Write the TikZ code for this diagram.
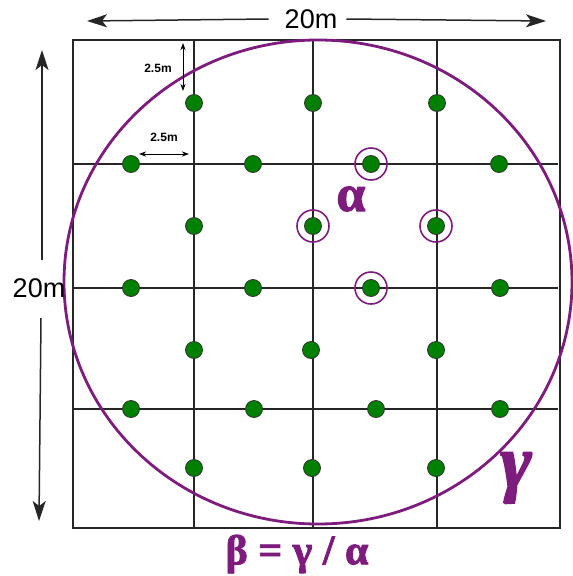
\documentclass[tikz,border=0pt]{standalone}
\usepackage{fontspec}
\setmainfont{Liberation Sans}
\newfontfamily\grkfont[FakeBold=2]{Liberation Serif}
\usetikzlibrary{arrows.meta}
\definecolor{vio}{RGB}{125,28,125}
\definecolor{dotgreen}{RGB}{0,128,0}
\tikzset{
  gridline/.style={draw=black!85, line width=1.5pt},
  frame/.style={draw=black!85, line width=2pt},
  dot/.style={circle, fill=dotgreen, draw=black!80, line width=0.8pt, minimum size=17pt, inner sep=0pt},
  ring/.style={circle, draw=vio, line width=1.6pt, minimum size=32pt, inner sep=0pt},
  bigarrow/.style={draw=black!85, line width=1.5pt, -{Stealth[length=20pt, width=13pt, inset=5pt]}},
  smallarrow/.style={draw=black, line width=0.9pt, {Stealth[length=7pt, width=5pt, inset=2pt]}-{Stealth[length=7pt, width=5pt, inset=2pt]}},
  bigtext/.style={font=\fontsize{27}{27}\selectfont, inner sep=0pt},
  smalltext/.style={font=\bfseries\fontsize{12}{12}\selectfont, inner sep=0pt},
  greek/.style={text=vio, inner sep=0pt, font=\grkfont\bfseries}
}
\begin{document}
\begin{tikzpicture}[x=1pt, y=-1pt]
\useasboundingbox (0,0) rectangle (573,576);
% frame and grid
\coordinate (TL) at (73,40);
\coordinate (BR) at (560,528);
\foreach \x [count=\i] in {194,313,437} {
  \coordinate (vt\i) at (\x,40);
  \coordinate (vb\i) at (\x,528);
  \draw[gridline] (vt\i) -- (vb\i);
}
\foreach \y [count=\i] in {164,288,409} {
  \coordinate (hl\i) at (73,\y);
  \coordinate (hr\i) at (558,\y);
  \draw[gridline] (hl\i) -- (hr\i);
}
\draw[frame] (TL) rectangle (BR);
% big ellipse
\coordinate (ctr) at (318,282);
\draw[vio, line width=2.8pt] (ctr) ellipse [x radius=254, y radius=242];
% dots
\foreach \x [count=\i] in {194,313,437} \node[dot] (a\i) at (\x,103) {};
\foreach \x [count=\i] in {131,253,371,499} \node[dot] (b\i) at (\x,164) {};
\foreach \x [count=\i] in {194,313,436} \node[dot] (c\i) at (\x,226) {};
\foreach \x [count=\i] in {131,253,371,500} \node[dot] (d\i) at (\x,288) {};
\foreach \x [count=\i] in {194,311,436} \node[dot] (e\i) at (\x,350) {};
\foreach \x [count=\i] in {131,254,376,500} \node[dot] (f\i) at (\x,409) {};
\foreach \x [count=\i] in {194,312,436} \node[dot] (g\i) at (\x,468) {};
% rings
\node[ring] (r1) at (b3) {};
\node[ring] (r2) at (c2) {};
\node[ring] (r3) at (c3) {};
\node[ring] (r4) at (d3) {};
% dimension arrows
\node[bigtext] (topt) at (311,19) {20m};
\coordinate (tl) at (87,21);
\coordinate (tr) at (546,21);
\draw[bigarrow] (topt.west) ++(-16,0) -- (tl);
\draw[bigarrow] (topt.east) ++(9,0) -- (tr);
\node[bigtext] (leftt) at (39,288) {20m};
\coordinate (lt) at (42,50);
\coordinate (lb) at (39,521);
\coordinate (lu) at (42,260);
\coordinate (ld) at (41,318);
\draw[bigarrow] (lu) -- (lt);
\draw[bigarrow] (ld) -- (lb);
% small arrows
\coordinate (sa1) at (183,43);
\coordinate (sa2) at (183,91);
\draw[smallarrow] (sa1) -- (sa2);
\node[smalltext] (s1) at (158,68) {2.5m};
\coordinate (sb1) at (139,154);
\coordinate (sb2) at (189,154);
\draw[smallarrow] (sb1) -- (sb2);
\node[smalltext] (s2) at (164,137) {2.5m};
% greek labels
\node[greek, font=\grkfont\bfseries\fontsize{52}{52}\selectfont] (alpha) at (351,199) {α};
\node[greek, font=\grkfont\bfseries\itshape\fontsize{76}{76}\selectfont] (gamma) at (516,478) {γ};
\node[greek, font=\grkfont\bfseries\fontsize{42}{42}\selectfont] (beta) at (297,554) {β = γ / α};
\end{tikzpicture}
\end{document}
